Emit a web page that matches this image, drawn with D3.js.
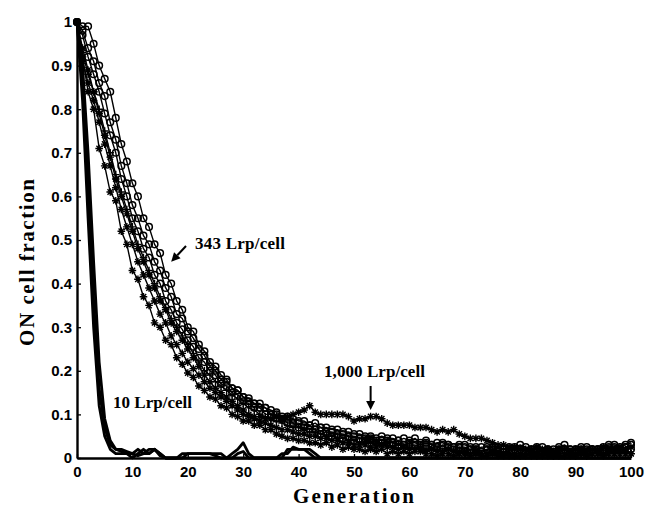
<!DOCTYPE html>
<html>
<head>
<meta charset="utf-8">
<script src="https://cdn.jsdelivr.net/npm/d3@7"></script>
<style>
  html, body { margin: 0; padding: 0; background: #fff; }
  svg { display: block; }
  .tick text { font-family: "Liberation Sans", Arial, sans-serif; font-weight: 700; font-size: 15px; fill: #000; }
  .lbl { font-family: "Liberation Serif", "Times New Roman", serif; font-weight: 700; fill: #000; }
</style>
</head>
<body>
<svg id="chart" width="649" height="509"></svg>
<script>
// ── Data: ON cell fraction per generation (0..100) ──────────────────────────
const generations = d3.range(0, 101);

// 10 Lrp/cell runs (thick lines, no markers)
const low1 = [1.00,0.86,0.62,0.36,0.16,0.07,0.03,0.02,0.02,0.015,0.01,
  0.02,0.01,0.01,0.02,0.01,0,0,0,0.01,0.01,
  0.01,0.01,0.01,0.01,0.01,0.01,0,0,0.01,0.015,
  0,0,0,0,0,0,0,0.02,0.02,0.02,
  0.02,0.01,0,0,0,0,0,0,0,0,
  0,0,0,0,0,0,0,0,0,0,
  0,0,0,0,0,0,0,0,0,0,
  0,0,0,0,0,0,0,0,0,0,
  0,0,0,0,0,0,0,0,0,0,
  0,0,0,0,0,0,0,0,0,0];
const low2 = [1.00,0.90,0.70,0.45,0.22,0.09,0.04,0.02,0.015,0.01,0.01,
  0.005,0.01,0.02,0.02,0.01,0,0,0,0,0.01,
  0.01,0.01,0.01,0.01,0.005,0,0,0.01,0.02,0.035,
  0.01,0,0,0,0,0,0,0,0,0,
  0,0,0,0,0,0,0,0,0,0,
  0,0,0,0,0,0,0,0,0,0,
  0,0,0,0,0,0,0,0,0,0,
  0,0,0,0,0,0,0,0,0,0,
  0,0,0,0,0,0,0,0,0,0,
  0,0,0,0,0,0,0,0,0,0];
const low3 = [1.00,0.82,0.55,0.30,0.12,0.05,0.02,0.01,0.01,0.01,0,
  0.01,0.02,0.01,0.02,0.005,0,0,0,0,0,
  0,0,0,0,0,0,0,0,0,0,
  0,0,0,0,0,0,0.01,0.01,0.025,0.02,
  0.02,0.02,0.01,0,0,0,0,0,0,0,
  0,0,0,0,0,0,0,0,0,0,
  0,0,0,0,0,0,0,0,0,0,
  0,0,0,0,0,0,0,0,0,0,
  0,0,0,0,0,0,0,0,0,0,
  0,0,0,0,0,0,0,0,0,0];

// 343 Lrp/cell runs (circle markers)
const circ1 = [1.00,0.99,0.99,0.95,0.90,0.87,0.84,0.78,0.72,0.68,0.63,
  0.60,0.55,0.53,0.49,0.47,0.42,0.40,0.36,0.34,0.30,
  0.29,0.26,0.245,0.22,0.21,0.19,0.18,0.16,0.155,0.14,
  0.137,0.125,0.125,0.115,0.11,0.105,0.095,0.095,0.09,0.085,
  0.085,0.075,0.08,0.07,0.07,0.065,0.065,0.06,0.06,0.055,
  0.055,0.05,0.05,0.045,0.05,0.045,0.045,0.04,0.045,0.04,
  0.045,0.035,0.04,0.03,0.035,0.035,0.03,0.025,0.03,0.03,
  0.025,0.02,0.025,0.025,0.02,0.025,0.02,0.025,0.025,0.03,
  0.025,0.02,0.025,0.025,0.02,0.02,0.025,0.03,0.02,0.02,
  0.025,0.025,0.02,0.02,0.025,0.03,0.03,0.025,0.03,0.035];
const circ2 = [1.00,0.98,0.94,0.91,0.86,0.83,0.77,0.73,0.67,0.63,0.58,
  0.55,0.51,0.49,0.45,0.43,0.39,0.37,0.33,0.32,0.29,
  0.275,0.25,0.235,0.21,0.2,0.18,0.175,0.16,0.155,0.14,
  0.13,0.125,0.115,0.115,0.10,0.10,0.09,0.09,0.08,0.08,
  0.075,0.075,0.065,0.07,0.06,0.06,0.055,0.055,0.05,0.05,
  0.045,0.045,0.045,0.04,0.04,0.04,0.035,0.04,0.03,0.035,
  0.035,0.03,0.035,0.03,0.025,0.03,0.03,0.025,0.025,0.025,
  0.02,0.025,0.015,0.02,0.025,0.015,0.02,0.02,0.02,0.02,
  0.015,0.02,0.02,0.015,0.02,0.015,0.02,0.02,0.015,0.02,
  0.015,0.02,0.02,0.02,0.02,0.025,0.02,0.02,0.025,0.02];
const circ3 = [1.00,0.97,0.92,0.88,0.84,0.79,0.74,0.70,0.64,0.60,0.55,
  0.52,0.48,0.46,0.42,0.40,0.36,0.34,0.31,0.295,0.27,
  0.255,0.23,0.22,0.20,0.19,0.17,0.165,0.15,0.145,0.13,
  0.125,0.115,0.115,0.10,0.10,0.09,0.09,0.08,0.08,0.07,
  0.07,0.065,0.065,0.055,0.06,0.05,0.055,0.045,0.05,0.04,
  0.045,0.04,0.04,0.035,0.035,0.035,0.035,0.03,0.03,0.03,
  0.03,0.025,0.03,0.025,0.025,0.02,0.025,0.02,0.025,0.015,
  0.02,0.02,0.015,0.02,0.02,0.015,0.015,0.015,0.02,0.02,
  0.015,0.015,0.015,0.015,0.015,0.01,0.015,0.02,0.02,0.015,
  0.02,0.015,0.02,0.02,0.015,0.02,0.025,0.02,0.025,0.03];

// 1,000 Lrp/cell runs (star markers)
const star1 = [1.00,0.92,0.84,0.80,0.71,0.67,0.61,0.59,0.52,0.49,0.43,
  0.41,0.37,0.35,0.31,0.30,0.27,0.26,0.23,0.215,0.195,
  0.185,0.165,0.155,0.14,0.135,0.12,0.115,0.10,0.095,0.085,
  0.085,0.075,0.075,0.065,0.065,0.055,0.05,0.045,0.045,0.04,
  0.04,0.035,0.035,0.03,0.035,0.025,0.03,0.02,0.025,0.02,
  0.02,0.015,0.02,0.015,0.02,0.01,0.015,0.01,0.015,0.01,
  0.015,0.015,0.01,0.01,0.005,0.01,0.01,0.005,0.01,0.01,
  0.005,0.01,0.005,0.005,0.01,0.005,0.005,0.01,0.005,0.005,
  0.01,0.005,0.005,0.01,0.005,0.01,0.005,0.005,0.01,0.005,
  0.01,0.005,0.01,0.01,0.005,0.01,0.01,0.015,0.01,0.01];
const star2 = [1.00,0.94,0.89,0.84,0.79,0.74,0.69,0.64,0.60,0.56,0.52,
  0.48,0.45,0.42,0.39,0.36,0.34,0.31,0.29,0.27,0.25,
  0.23,0.21,0.19,0.175,0.16,0.15,0.14,0.13,0.12,0.11,
  0.10,0.095,0.095,0.09,0.09,0.095,0.09,0.095,0.10,0.105,
  0.11,0.12,0.105,0.10,0.10,0.10,0.10,0.10,0.095,0.085,
  0.09,0.09,0.095,0.095,0.09,0.08,0.075,0.075,0.075,0.075,
  0.07,0.07,0.07,0.065,0.06,0.065,0.06,0.065,0.055,0.05,
  0.045,0.045,0.045,0.04,0.035,0.03,0.03,0.025,0.025,0.02,
  0.02,0.02,0.025,0.02,0.02,0.015,0.02,0.02,0.015,0.02,
  0.02,0.015,0.02,0.02,0.025,0.02,0.02,0.025,0.02,0.025];
const star3 = [1.00,0.91,0.86,0.82,0.77,0.72,0.67,0.62,0.57,0.53,0.49,
  0.45,0.42,0.39,0.36,0.33,0.31,0.28,0.26,0.24,0.22,
  0.205,0.19,0.175,0.16,0.15,0.14,0.13,0.12,0.11,0.10,
  0.095,0.09,0.085,0.08,0.075,0.07,0.065,0.065,0.06,0.055,
  0.055,0.05,0.05,0.045,0.045,0.04,0.04,0.035,0.035,0.03,
  0.03,0.03,0.025,0.025,0.03,0.025,0.025,0.02,0.025,0.02,
  0.02,0.02,0.015,0.02,0.015,0.015,0.02,0.015,0.01,0.015,
  0.01,0.015,0.01,0.01,0.015,0.01,0.01,0.005,0.01,0.01,
  0.005,0.01,0.01,0.005,0.01,0.005,0.01,0.01,0.005,0.01,
  0.01,0.005,0.01,0.01,0.01,0.015,0.01,0.01,0.015,0.01];
const plus1 = [1.00,0.93,0.88,0.84,0.80,0.75,0.70,0.65,0.61,0.57,0.53,
  0.49,0.46,0.43,0.40,0.37,0.345,0.32,0.30,0.28,0.26,
  0.24,0.22,0.20,0.19,0.175,0.165,0.155,0.145,0.135,0.125,
  0.115,0.11,0.10,0.095,0.09,0.085,0.08,0.075,0.07,0.07,
  0.065,0.06,0.06,0.055,0.05,0.05,0.045,0.045,0.04,0.04,
  0.035,0.035,0.035,0.03,0.03,0.03,0.025,0.03,0.025,0.025,
  0.02,0.025,0.02,0.02,0.02,0.015,0.02,0.015,0.015,0.015,
  0.01,0.015,0.01,0.01,0.01,0.015,0.01,0.01,0.01,0.005,
  0.01,0.01,0.005,0.01,0.01,0.005,0.01,0.01,0.01,0.005,
  0.01,0.01,0.01,0.015,0.01,0.01,0.015,0.01,0.015,0.01];

const xTicks = [0, 10, 20, 30, 40, 50, 60, 70, 80, 90, 100];
const yTicks = [0, 0.1, 0.2, 0.3, 0.4, 0.5, 0.6, 0.7, 0.8, 0.9, 1];

const lowSeries    = [low1, low2, low3];
const markedSeries = [
  { values: star1, marker: "star" },
  { values: plus1, marker: "plus" },
  { values: star3, marker: "star" },
  { values: circ3, marker: "circle" },
  { values: circ2, marker: "circle" },
  { values: star2, marker: "star" },
  { values: circ1, marker: "circle" },
];

// ── Layout ──────────────────────────────────────────────────────────────────
const svg = d3.select("#chart");
const x = d3.scaleLinear().domain([0, 100]).range([77, 631]);
const y = d3.scaleLinear().domain([0, 1]).range([458, 22]);

const line = d3.line().x((d, i) => x(generations[i])).y(d => y(d));

// 10 Lrp/cell thick lines
svg.append("g").selectAll("path")
  .data(lowSeries)
  .join("path")
  .attr("d", line)
  .attr("fill", "none").attr("stroke", "#000")
  .attr("stroke-width", 2.8).attr("stroke-linejoin", "round");

// marker paths
const s = 3.8, a = s * 0.72;
const markerPath = {
  star: `M${-s},0L${s},0M0,${-s}L0,${s}M${-a},${-a}L${a},${a}M${-a},${a}L${a},${-a}`,
  plus: `M${-s},0L${s},0M0,${-s}L0,${s}`,
};

markedSeries.forEach(ser => {
  const g = svg.append("g");
  g.append("path")
    .attr("d", line(ser.values))
    .attr("fill", "none").attr("stroke", "#000")
    .attr("stroke-width", 1.4).attr("stroke-linejoin", "round");

  const pts = g.selectAll("g.pt")
    .data(ser.values)
    .join("g")
    .attr("class", "pt")
    .attr("transform", (d, i) => `translate(${x(generations[i])},${y(d)})`);

  if (ser.marker === "circle") {
    pts.append("circle").attr("r", 3.3)
      .attr("fill", "none").attr("stroke", "#000").attr("stroke-width", 1.5);
  } else {
    pts.append("path").attr("d", markerPath[ser.marker])
      .attr("fill", "none").attr("stroke", "#000").attr("stroke-width", 1.4);
  }
});

// ── Axes ────────────────────────────────────────────────────────────────────
const xAxis = svg.append("g")
  .attr("transform", `translate(0,${y(0)})`)
  .call(d3.axisBottom(x).tickValues(xTicks).tickSize(-4).tickSizeOuter(0).tickPadding(8)
    .tickFormat(d => String(d)));
const yAxis = svg.append("g")
  .attr("transform", `translate(${x(0)},0)`)
  .call(d3.axisLeft(y).tickValues(yTicks).tickSize(-4).tickSizeOuter(0).tickPadding(5)
    .tickFormat(d => String(d)));

[xAxis, yAxis].forEach(ax => {
  ax.select(".domain").attr("stroke", "#000").attr("stroke-width", 2.4);
  ax.selectAll(".tick line").attr("stroke", "#000").attr("stroke-width", 1.3);
});

// Axis titles
svg.append("text").attr("class", "lbl")
  .attr("x", 293).attr("y", 503)
  .attr("font-size", "21px")
  .attr("textLength", 121).attr("lengthAdjust", "spacing")
  .text("Generation");

svg.append("text").attr("class", "lbl")
  .attr("transform", "translate(34,346) rotate(-90)")
  .attr("font-size", "21px")
  .attr("textLength", 167).attr("lengthAdjust", "spacing")
  .text("ON cell fraction");

// ── Annotations ─────────────────────────────────────────────────────────────
function arrow(x1, y1, x2, y2) {
  const ang = Math.atan2(y2 - y1, x2 - x1);
  const hl = 9, hw = 4.5;
  const bx = x2 - hl * Math.cos(ang), by = y2 - hl * Math.sin(ang);
  svg.append("line")
    .attr("x1", x1).attr("y1", y1).attr("x2", bx).attr("y2", by)
    .attr("stroke", "#000").attr("stroke-width", 2);
  svg.append("path")
    .attr("d", `M${x2},${y2}L${bx - hw * Math.sin(ang)},${by + hw * Math.cos(ang)}L${bx + hw * Math.sin(ang)},${by - hw * Math.cos(ang)}Z`)
    .attr("fill", "#000");
}

svg.append("text").attr("class", "lbl")
  .attr("x", 195).attr("y", 249).attr("font-size", "17px")
  .attr("textLength", 90).attr("lengthAdjust", "spacing")
  .text("343 Lrp/cell");
arrow(186, 246, x(17), y(0.45));

svg.append("text").attr("class", "lbl")
  .attr("x", 324).attr("y", 377).attr("font-size", "17px")
  .attr("textLength", 101).attr("lengthAdjust", "spacing")
  .text("1,000 Lrp/cell");
arrow(x(53), 386, x(53), y(0.11));

svg.append("text").attr("class", "lbl")
  .attr("x", 113).attr("y", 408).attr("font-size", "17px")
  .attr("textLength", 79).attr("lengthAdjust", "spacing")
  .text("10 Lrp/cell");
</script>
</body>
</html>
